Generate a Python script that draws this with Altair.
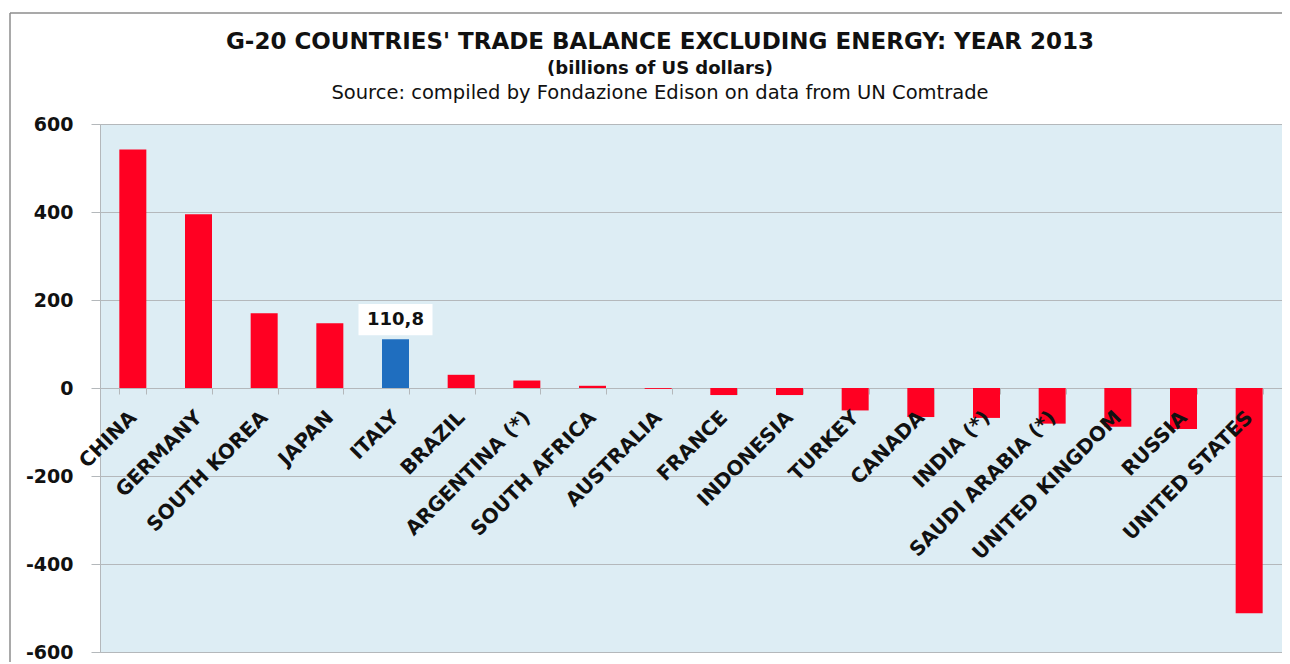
import altair as alt
import pandas as pd

countries = ["CHINA", "GERMANY", "SOUTH KOREA", "JAPAN", "ITALY", "BRAZIL",
             "ARGENTINA (*)", "SOUTH AFRICA", "AUSTRALIA", "FRANCE", "INDONESIA",
             "TURKEY", "CANADA", "INDIA (*)", "SAUDI ARABIA (*)", "UNITED KINGDOM",
             "RUSSIA", "UNITED STATES"]
values = [542, 395, 170, 147, 110.8, 30, 17, 5, -2, -16, -16,
          -51, -66, -68, -81, -88, -93, -512]
highlight = "ITALY"
highlight_label = "110,8"
y_ticks = [-600, -400, -200, 0, 200, 400, 600]

title_lines = ["G-20 COUNTRIES' TRADE BALANCE EXCLUDING ENERGY: YEAR 2013",
               "(billions of US dollars)",
               "Source: compiled by Fondazione Edison on data from UN Comtrade"]

df = pd.DataFrame({"country": countries, "value": values})
df["hl"] = df["country"] == highlight

W, H = 1182, 528
RED = "#FF0022"
BLUE = "#1F6EBF"
GRID = "#B4B8BB"

xenc = alt.X("country:N", sort=countries, title=None,
             scale=alt.Scale(paddingInner=0.59, paddingOuter=0.295),
             axis=alt.Axis(offset=-H / 2, domain=False, tickColor=GRID,
                           tickSize=6, tickBand="extent", labelAngle=315,
                           labelAlign="right", labelBaseline="middle",
                           labelPadding=20, labelFont="DejaVu Sans", labelFontSize=20,
                           labelFontWeight="bold", labelColor="#111111",
                           labelOverlap=False, labelBound=False, labelLimit=400,
                           grid=False, zindex=1))
yenc = alt.Y("value:Q", title=None,
             scale=alt.Scale(domain=[-600, 600], nice=False),
             axis=alt.Axis(values=y_ticks, domainColor=GRID, tickColor=GRID,
                           tickSize=9, labelPadding=18, gridColor=GRID,
                           labelExpr="'' + datum.value",
                           labelFont="DejaVu Sans", labelFontSize=19,
                           labelFontWeight="bold", labelColor="#111111"))

bars = alt.Chart(df).mark_bar(size=27).encode(
    x=xenc, y=yenc,
    color=alt.condition("datum.hl", alt.value(BLUE), alt.value(RED)),
)

hl_df = pd.DataFrame({"country": [highlight],
                      "value": [values[countries.index(highlight)]],
                      "label": [highlight_label]})

box = alt.Chart(hl_df).transform_calculate(
    b0="datum.value + 9", b1="datum.value + 80"
).mark_bar(size=74, color="white").encode(
    x=alt.X("country:N", sort=countries),
    y="b0:Q", y2="b1:Q",
)

lab = alt.Chart(hl_df).mark_text(
    font="DejaVu Sans", fontSize=18, fontWeight="bold", color="#111111",
    dy=-19, baseline="middle"
).encode(x=alt.X("country:N", sort=countries), y="value:Q", text="label:N")

tdf = pd.DataFrame({"t": title_lines, "i": [0, 1, 2]})
t1 = alt.Chart(tdf.iloc[[0]]).mark_text(
    font="DejaVu Sans", fontSize=23, fontWeight="bold", color="#111111",
    baseline="middle", align="center"
).encode(text="t:N", x=alt.value(560), y=alt.value(-82))
t2 = alt.Chart(tdf.iloc[[1]]).mark_text(
    font="DejaVu Sans", fontSize=18, fontWeight="bold", color="#111111",
    baseline="middle", align="center"
).encode(text="t:N", x=alt.value(560), y=alt.value(-55))
t3 = alt.Chart(tdf.iloc[[2]]).mark_text(
    font="DejaVu Sans", fontSize=19.5, color="#111111",
    baseline="middle", align="center"
).encode(text="t:N", x=alt.value(560), y=alt.value(-31))

frame_top = alt.Chart(tdf.iloc[[0]]).mark_rule(color="#8C8C8C", strokeWidth=1.5).encode(
    x=alt.value(-90), x2=alt.value(1200), y=alt.value(-111))
frame_left = alt.Chart(tdf.iloc[[0]]).mark_rule(color="#8C8C8C", strokeWidth=1.5).encode(
    x=alt.value(-90), y=alt.value(-111), y2=alt.value(560))

chart = alt.layer(bars, box, lab, t1, t2, t3, frame_top, frame_left).properties(
    width=W, height=H,
    autosize=alt.AutoSizeParams(type="none"),
    padding={"left": 92, "top": 116, "right": 0, "bottom": 10},
    background="white",
).configure_view(fill="#DDEDF4", stroke=GRID, strokeWidth=1)

chart.save("out.html", embed_options={"renderer": "svg", "actions": False})
